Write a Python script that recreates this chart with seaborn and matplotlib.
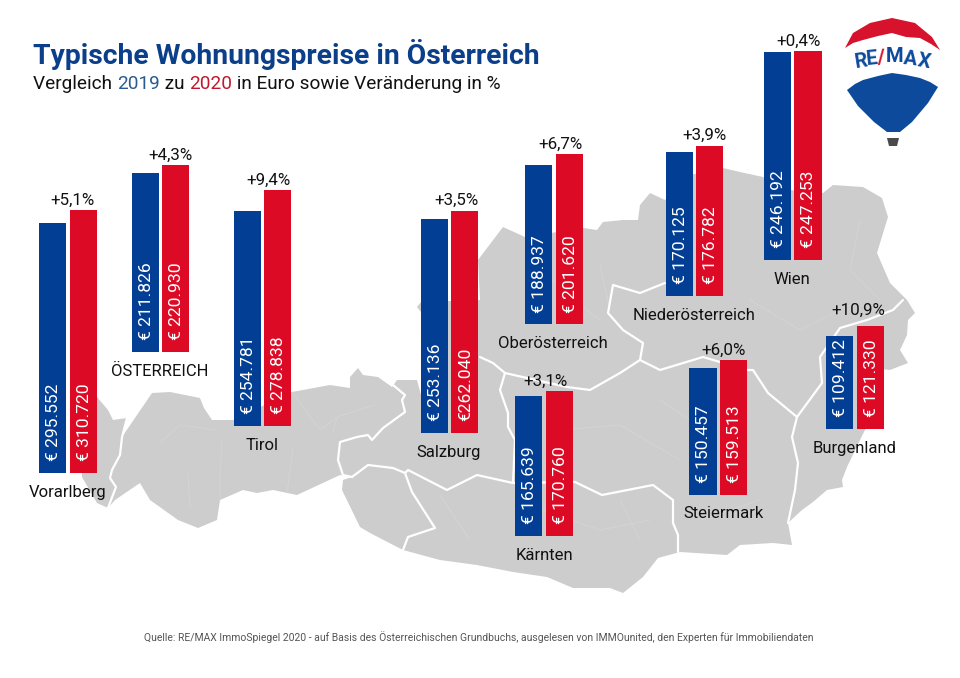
import matplotlib
matplotlib.use("Agg")
import matplotlib.pyplot as plt
import pandas as pd
import seaborn as sns
from matplotlib.patches import Polygon

# --- Daten ---
regionen = ["Vorarlberg", "ÖSTERREICH", "Tirol", "Salzburg", "Oberösterreich",
            "Niederösterreich", "Wien", "Burgenland", "Steiermark", "Kärnten"]
preise_2019 = [295552, 211826, 254781, 253136, 188937, 170125, 246192, 109412, 150457, 165639]
preise_2020 = [310720, 220930, 278838, 262040, 201620, 176782, 247253, 121330, 159513, 170760]
veraenderung = ["+5,1%", "+4,3%", "+9,4%", "+3,5%", "+6,7%", "+3,9%", "+0,4%", "+10,9%", "+6,0%", "+3,1%"]
jahre = ["2019", "2020"]

# --- Layout (Pixel im Bild) ---
W, H = 960, 678
PX_PRO_EURO = 0.845 / 1000
bar_links = [39, 131.5, 233.5, 420.5, 525, 665.5, 763.7, 826, 689.3, 515]
bar_basis = [472.7, 351.7, 426, 432.7, 324.5, 295.7, 260.3, 428.7, 495, 535.7]
name_pos = [(68, 492), (160, 371), (262, 445), (449, 452), (553, 344),
            (694, 315), (792, 280), (855, 448), (724, 513), (544, 555)]
pct_pos = [(72, 200), (170, 155), (268, 180), (456, 200), (560, 144),
           (704, 135), (799, 41), (858, 310), (724, 350), (545, 381)]

BLAU = "#023f94"
ROT = "#dc0a25"
GRAU = "#cdcdcd"

# Umriss der Karte
umriss = [
    (97, 397), (108, 410), (113, 420), (127, 418), (122, 437), (152, 393), (170, 392), (200, 398),
    (204, 408), (212, 420), (233, 420), (292, 392), (330, 385), (350, 388), (350, 377), (358, 368),
    (363, 375), (378, 377), (392, 387), (397, 380), (417, 380), (421, 395), (421, 312), (417, 307),
    (421, 302), (480, 300),
    (478, 260), (503, 227), (525, 237), (583, 228), (597, 230), (603, 222), (623, 220), (638, 220),
    (640, 205), (650, 193), (665, 200), (690, 175), (723, 168), (740, 172), (763, 177), (790, 190),
    (823, 193), (833, 185), (863, 187), (882, 198), (888, 217), (877, 253), (890, 283), (907, 300),
    (915, 313), (908, 320), (907, 335), (900, 350), (908, 363), (890, 370), (870, 368), (880, 400),
    (860, 440), (847, 467), (842, 480), (843, 487), (827, 490), (813, 502), (802, 510), (788, 523),
    (792, 545), (773, 543), (740, 545), (727, 555), (680, 552), (658, 558), (643, 577), (623, 593),
    (610, 588), (573, 588), (547, 577), (513, 572), (477, 565), (440, 560), (403, 550), (370, 533),
    (360, 527), (342, 490), (343, 480), (352, 477), (340, 475), (297, 495), (273, 490), (257, 493),
    (243, 490), (220, 500), (217, 520), (198, 528), (178, 520), (150, 500), (140, 483), (115, 500),
    (108, 508), (97, 503), (82, 477), (82, 420),
]
# Landesgrenzen
grenzen = [
    [(127, 418), (122, 437), (120, 455), (112, 470), (110, 478), (116, 487), (108, 508)],
    [(352, 477), (343, 475), (338, 460), (340, 442), (357, 437), (368, 435), (372, 440), (383, 428),
     (405, 412), (402, 400), (405, 395), (393, 385)],
    [(352, 477), (368, 465), (393, 468), (405, 473), (408, 470), (447, 490), (477, 475), (513, 483),
     (575, 482), (602, 495), (653, 485), (673, 500), (673, 523), (678, 535), (678, 552)],
    [(405, 473), (412, 492), (435, 528), (408, 537), (403, 550)],
    [(480, 357), (493, 363), (505, 373), (500, 390), (508, 413), (508, 427), (515, 440), (513, 483)],
    [(505, 373), (567, 387), (590, 390), (620, 373), (640, 360), (660, 370), (703, 357), (747, 370),
     (753, 370), (768, 393), (797, 417), (792, 437), (798, 463), (795, 490), (788, 523)],
    [(640, 360), (643, 343), (623, 330), (608, 313), (613, 285), (640, 293), (665, 283)],
    [(797, 417), (822, 383), (820, 357), (840, 328), (867, 320), (893, 310), (903, 300)],
]
# Bezirksgrenzen, kaum sichtbar
bezirke = [
    [(222, 440), (220, 473), (220, 500)], [(188, 473), (190, 507)], [(293, 447), (287, 493)],
    [(337, 417), (333, 433)], [(160, 443), (180, 425), (217, 430)], [(292, 392), (320, 430), (337, 417), (375, 405)],
    [(530, 260), (575, 300), (600, 320)], [(600, 265), (610, 310)], [(560, 430), (620, 425), (680, 460)],
    [(620, 500), (640, 540)], [(540, 510), (600, 530), (650, 520)], [(700, 520), (760, 500)],
    [(750, 300), (800, 330), (860, 300)], [(860, 220), (850, 270), (880, 300)], [(660, 400), (690, 420)],
    [(440, 495), (470, 540)],
]

sns.set_theme(style="white")
plt.rcParams["font.family"] = ["Roboto", "DejaVu Sans"]

fig = plt.figure(figsize=(W / 100, H / 100), dpi=100, facecolor="white")
bg = fig.add_axes([0, 0, 1, 1])
bg.set_xlim(0, W)
bg.set_ylim(H, 0)
bg.axis("off")

bg.add_patch(Polygon(umriss, closed=True, fc=GRAU, ec="none"))
for g in bezirke:
    bg.plot(*zip(*g), color="#d5d5d5", lw=0.6)
for g in grenzen:
    bg.plot(*zip(*g), color="white", lw=1.6, solid_joinstyle="round")

# --- Balken je Region ---
y_max = 330000
breite = 61
hoehe = y_max * PX_PRO_EURO
for i, region in enumerate(regionen):
    links = bar_links[i] - 1.5
    unten = H - bar_basis[i]
    ax = fig.add_axes([links / W, unten / H, breite / W, hoehe / H], facecolor="none")
    df = pd.DataFrame({"jahr": jahre, "preis": [preise_2019[i], preise_2020[i]]})
    sns.barplot(data=df, x="jahr", y="preis", hue="jahr", palette=[BLAU, ROT],
                legend=False, width=0.9, saturation=1, linewidth=0, ax=ax)
    ax.set_xlim(-0.5, 1.5)
    ax.set_ylim(0, y_max)
    ax.axis("off")
    for k, wert in enumerate(df["preis"]):
        txt = f"€ {wert:,}".replace(",", ".")
        if wert == 262040:
            txt = txt.replace(" ", "")  # so im Original
        ax.annotate(txt, xy=(k, 0), xytext=(0.6, 8.6), textcoords="offset points",
                    rotation=90, ha="center", va="bottom", color="white", fontsize=12.6)
    bg.text(*name_pos[i], region, ha="center", va="center", fontsize=12, color="#111111")
    bg.text(*pct_pos[i], veraenderung[i], ha="center", va="center", fontsize=12.2, color="#111111")

# --- Titel ---
bg.text(33, 54, "Typische Wohnungspreise in Österreich", fontsize=20.35, fontweight="bold",
        color="#0b3f8a", va="center", ha="left")

# Untertitel stückweise wegen der Farben
fig.canvas.draw()
renderer = fig.canvas.get_renderer()
x = 33
for teil, farbe in [("Vergleich ", "#111111"), ("2019", "#2a5a8f"), (" zu ", "#111111"),
                    ("2020", "#c0172f"), (" in Euro sowie Veränderung in %", "#111111")]:
    t = bg.text(x, 84, teil.replace(" ", "\u00a0"), fontsize=13.7, color=farbe, va="center", ha="left")
    x = t.get_window_extent(renderer).x1

bg.text(479, 637, "Quelle: RE/MAX ImmoSpiegel 2020 - auf Basis des Österreichischen Grundbuchs, "
        "ausgelesen von IMMOunited, den Experten für Immobiliendaten",
        fontsize=7.5, color="#555555", ha="center", va="center")

# --- Logo ---
kappe = [(845, 48), (853, 33), (870, 23), (892, 18), (915, 23), (932, 37), (940, 50), (931, 44),
         (920, 38), (906, 37), (892, 33), (878, 36), (863, 40), (853, 43)]
ballon = [(847, 90), (855, 84), (863, 80), (878, 76), (892, 73), (906, 75), (920, 78), (930, 82),
          (938, 87), (928, 103), (912, 122), (900, 132), (887, 132), (874, 122), (858, 106)]
korb = [(887, 138), (899, 138), (897, 146), (889, 146)]
bg.add_patch(Polygon(kappe, closed=True, fc="#d6122c", ec="none"))
bg.add_patch(Polygon(ballon, closed=True, fc="#0d4a9c", ec="none"))
bg.add_patch(Polygon(korb, closed=True, fc="#4a4a4a", ec="none"))
for zeichen, px, py, rot, farbe in [("R", 861, 62, 9, "#0d4a9c"), ("E", 872, 59, 6, "#0d4a9c"),
                                    ("/", 881, 58, 3, "#d6122c"), ("M", 895, 57, 0, "#0d4a9c"),
                                    ("A", 910, 59, -6, "#0d4a9c"), ("X", 924, 62, -10, "#0d4a9c")]:
    bg.text(px, py, zeichen, fontsize=14.5, fontweight="bold", color=farbe, rotation=rot,
            ha="center", va="center")

fig.savefig("out.png", dpi=100)
